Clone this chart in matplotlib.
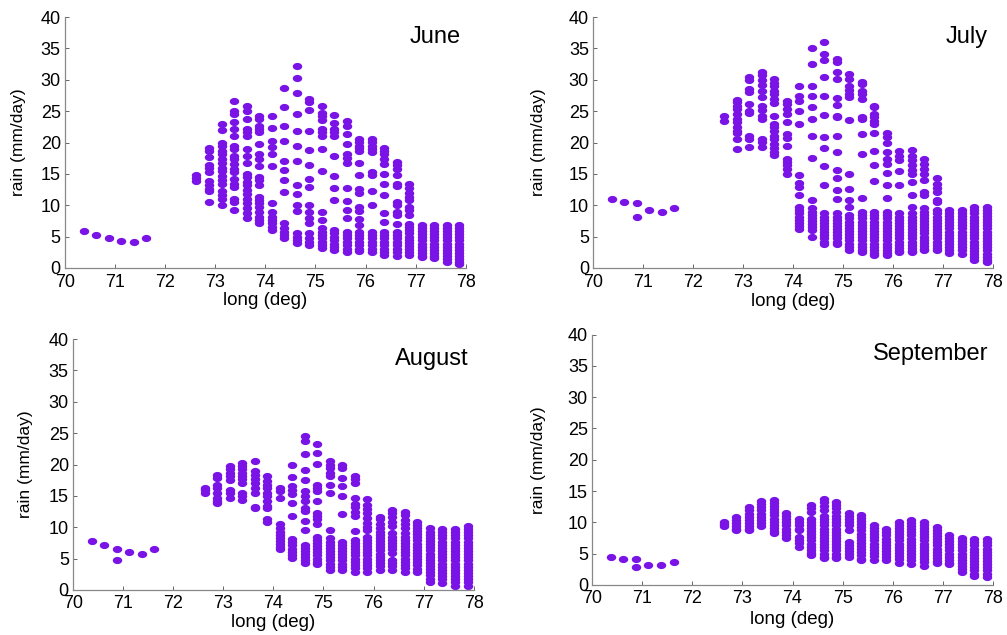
import matplotlib
matplotlib.use("Agg")
import matplotlib.pyplot as plt
from matplotlib.path import Path
import numpy as np

plt.rcParams['font.family'] = ['Liberation Sans', 'DejaVu Sans']

# Grid-column longitudes (deg E)
lon = [70.375, 70.625, 70.875, 71.125, 71.375, 71.625,
       72.625, 72.875, 73.125, 73.375, 73.625, 73.875, 74.125, 74.375,
       74.625, 74.875, 75.125, 75.375, 75.625, 75.875, 76.125, 76.375,
       76.625, 76.875, 77.125, 77.375, 77.625, 77.875]

months = ["June", "July", "August", "September"]

# Mean daily rain (mm/day) of every grid cell, one list per longitude column
june = [
    [5.9], [5.3], [4.8], [4.3], [4.2], [4.8],
    [13.9, 14.4, 14.9],
    [19.1, 18.7, 17.7, 16.5, 16.0, 15.3, 13.8, 13.3, 12.6, 12.2, 10.6],
    [22.9, 22.0, 20.0, 19.4, 18.7, 18.1, 17.3, 16.7, 16.0, 15.4, 14.7, 14.1, 13.4, 12.2, 11.6, 11.0, 10.0],
    [26.6, 25.1, 24.5, 23.3, 22.2, 21.0, 19.5, 19.0, 17.9, 17.4, 16.6, 15.8, 15.3, 14.2, 13.4, 12.9, 11.0, 10.5, 9.2],
    [25.8, 25.1, 23.7, 22.2, 21.7, 21.0, 19.0, 17.9, 16.7, 15.0, 14.5, 13.7, 13.2, 12.4, 11.8, 11.0, 10.3, 9.5, 8.7, 8.0],
    [24.3, 23.8, 22.7, 22.2, 21.7, 19.8, 18.2, 17.4, 16.3, 14.5, 14.0, 13.2, 11.3, 10.8, 10.3, 9.7, 8.9, 8.2, 7.6, 7.1],
    [24.2, 22.4, 20.3, 19.3, 18.1, 16.3, 10.4, 9.0, 8.1, 7.6, 7.1, 6.5, 6.0],
    [28.7, 25.6, 22.6, 20.2, 17.1, 15.6, 14.1, 12.1, 7.2, 6.3, 5.7, 5.2, 4.7],
    [32.2, 30.3, 27.9, 24.6, 21.9, 19.4, 17.0, 13.3, 11.8, 10.1, 9.1, 5.5, 4.9, 4.4, 4.0],
    [26.9, 26.5, 25.2, 21.8, 18.8, 16.5, 14.2, 12.9, 10.0, 8.9, 7.9, 7.2, 5.5, 4.8, 4.1, 3.6],
    [25.9, 24.7, 24.2, 23.6, 22.2, 21.7, 21.0, 18.9, 15.5, 8.9, 7.6, 6.3, 5.7, 5.2, 4.7, 4.1, 3.6, 3.2],
    [24.4, 23.1, 22.2, 21.7, 21.0, 17.8, 14.7, 12.8, 10.8, 6.0, 5.5, 4.9, 4.4, 3.9, 3.3, 2.8],
    [23.4, 22.7, 21.4, 19.7, 18.1, 17.5, 16.7, 12.8, 10.7, 9.3, 7.9, 5.7, 5.2, 4.7, 4.1, 3.6, 3.1, 2.5],
    [20.6, 20.1, 19.5, 19.1, 18.6, 16.7, 14.9, 12.6, 12.0, 9.7, 9.1, 7.8, 6.8, 5.7, 5.2, 4.7, 4.1, 3.6, 3.1, 2.7],
    [20.6, 20.1, 19.5, 19.0, 18.5, 15.3, 14.8, 12.3, 10.1, 5.7, 5.2, 4.7, 4.1, 3.6, 3.1, 2.5],
    [19.1, 18.6, 18.2, 17.3, 16.6, 15.0, 13.4, 11.7, 8.8, 7.4, 5.7, 5.2, 4.7, 4.1, 3.6, 3.1, 2.5, 2.0],
    [16.9, 16.4, 15.8, 14.8, 13.4, 13.1, 10.5, 10.1, 8.9, 8.4, 7.0, 5.7, 5.2, 4.7, 4.1, 3.6, 3.1, 2.5, 1.9],
    [13.4, 12.8, 12.0, 11.3, 10.8, 9.8, 9.3, 8.5, 7.0, 6.5, 6.0, 5.5, 5.0, 4.5, 4.0, 3.5, 3.0, 2.5, 2.0],
    [6.9, 6.4, 5.9, 5.4, 4.9, 4.4, 3.9, 3.4, 2.9, 2.4, 1.9, 1.7],
    [6.9, 6.4, 5.9, 5.4, 4.9, 4.4, 3.9, 3.4, 2.9, 2.4, 1.9, 1.6],
    [6.9, 6.4, 5.9, 5.4, 4.9, 4.4, 3.9, 3.4, 2.9, 2.4, 1.9, 1.4, 1.0],
    [6.9, 6.4, 5.9, 5.4, 4.9, 4.4, 3.9, 3.4, 2.9, 2.4, 1.9, 1.4, 0.9, 0.7],
]

july = [
    [11.0], [10.6], [10.3, 8.1], [9.3], [8.9], [9.5],
    [23.5, 24.3],
    [26.8, 26.4, 25.9, 25.4, 24.6, 23.8, 23.3, 22.5, 21.9, 21.5, 20.6, 19.0],
    [30.5, 29.9, 28.6, 28.0, 26.2, 25.1, 24.7, 21.1, 20.6, 19.3],
    [31.2, 30.7, 29.9, 29.1, 28.3, 27.3, 25.8, 25.2, 24.3, 23.7, 20.6, 20.1, 19.3],
    [30.2, 29.5, 29.0, 28.3, 27.7, 27.0, 26.3, 24.2, 23.0, 22.5, 21.8, 21.1, 20.5, 19.8, 19.2, 18.5, 18.0],
    [26.6, 26.1, 25.4, 24.6, 23.3, 21.4, 20.8, 19.5, 17.4, 16.9, 16.4, 15.8, 15.0],
    [29.0, 27.5, 26.7, 25.0, 22.9, 14.9, 13.5, 12.9, 11.7, 9.7, 9.2, 8.7, 8.2, 7.7, 7.2, 6.7, 6.2],
    [35.1, 32.6, 29.0, 27.4, 25.7, 23.7, 21.0, 17.6, 10.8, 9.5, 9.0, 8.5, 8.0, 7.5, 7.0, 6.5, 6.0, 5.0],
    [36.0, 34.2, 33.1, 30.5, 27.4, 24.4, 20.9, 19.1, 16.2, 13.3, 8.7, 8.2, 7.7, 7.2, 6.7, 6.2, 5.7, 5.2, 4.7, 4.2, 3.9],
    [33.4, 32.9, 31.3, 30.1, 27.1, 26.0, 24.3, 24.0, 21.0, 18.5, 15.7, 14.4, 12.4, 11.0, 8.7, 8.2, 7.7, 7.2, 6.7, 6.2, 5.7, 5.2, 4.7, 4.2, 3.9],
    [30.9, 30.1, 29.0, 28.4, 27.8, 27.3, 23.6, 15.0, 12.6, 10.8, 9.7, 8.4, 7.9, 7.4, 6.9, 6.4, 5.9, 5.4, 4.9, 4.4, 3.9, 3.4, 2.8],
    [29.7, 29.3, 28.3, 27.7, 27.0, 24.1, 23.7, 21.4, 18.2, 11.2, 8.9, 8.4, 7.9, 7.4, 6.9, 6.4, 5.9, 5.4, 4.9, 4.4, 3.9, 3.4, 2.9, 2.5],
    [25.9, 25.6, 24.6, 24.1, 23.5, 23.0, 21.5, 18.6, 16.5, 13.8, 8.9, 8.4, 7.9, 7.4, 6.9, 6.4, 5.9, 5.4, 4.9, 4.4, 3.9, 3.4, 2.9, 2.4, 2.0],
    [21.5, 20.9, 19.9, 18.5, 17.3, 16.6, 15.1, 13.3, 11.2, 8.9, 8.4, 7.9, 7.4, 6.9, 6.4, 5.9, 5.4, 4.9, 4.4, 3.9, 3.4, 2.9, 2.4, 2.0],
    [18.6, 17.8, 17.2, 15.5, 13.2, 8.7, 8.2, 7.7, 7.2, 6.7, 6.2, 5.7, 5.2, 4.7, 4.2, 3.7, 3.2, 2.7, 2.5],
    [18.8, 17.8, 17.2, 16.4, 15.7, 15.0, 13.7, 11.7, 9.7, 8.7, 8.2, 7.7, 7.2, 6.7, 6.2, 5.7, 5.2, 4.7, 4.2, 3.7, 3.2, 2.7, 2.5],
    [17.4, 16.6, 15.8, 15.0, 14.0, 12.1, 11.6, 9.5, 9.0, 8.5, 8.0, 7.5, 7.0, 6.5, 6.0, 5.5, 5.0, 4.5, 4.0, 3.5, 3.0, 2.8],
    [14.4, 13.4, 12.8, 12.1, 10.9, 10.5, 9.2, 8.7, 8.2, 7.7, 7.2, 6.7, 6.2, 5.7, 5.2, 4.7, 4.2, 3.7, 3.2, 2.8],
    [9.3, 8.8, 8.3, 7.8, 7.3, 6.8, 6.3, 5.8, 5.3, 4.8, 4.3, 3.8, 3.3, 2.8, 2.4],
    [9.3, 8.8, 8.3, 7.8, 7.3, 6.8, 6.3, 5.8, 5.3, 4.8, 4.3, 3.8, 3.3, 2.8, 2.2],
    [9.7, 9.2, 8.7, 8.2, 7.7, 7.2, 6.7, 6.2, 5.7, 5.2, 4.7, 4.2, 3.7, 3.2, 2.7, 2.2, 1.7, 1.3],
    [9.8, 9.3, 8.8, 8.3, 7.8, 7.3, 6.8, 6.3, 5.8, 5.3, 4.8, 4.3, 3.8, 3.3, 2.8, 2.3, 1.8, 1.3, 1.0],
]

august = [
    [7.8], [7.2], [6.6, 4.8], [6.1], [5.7], [6.5],
    [15.4, 15.9, 16.3],
    [18.4, 17.8, 16.8, 16.2, 15.4, 14.6, 14.1, 13.8],
    [19.8, 19.3, 18.7, 18.1, 17.6, 16.0, 15.4, 14.6],
    [20.3, 19.8, 19.3, 18.7, 18.2, 17.7, 17.1, 15.4, 14.9, 14.3],
    [20.5, 18.9, 18.4, 17.7, 17.0, 16.2, 15.5, 13.3, 13.0],
    [18.1, 17.4, 16.8, 16.2, 15.5, 14.9, 14.1, 13.4, 13.0, 11.3, 10.9],
    [16.2, 15.7, 14.7, 10.5, 9.8, 9.3, 8.8, 8.3, 7.8, 7.3, 6.8, 6.5],
    [19.9, 18.0, 16.5, 15.9, 15.3, 13.9, 11.8, 8.1, 7.6, 7.1, 6.6, 6.1, 5.6, 5.1],
    [24.6, 23.8, 21.6, 19.1, 17.6, 15.7, 15.0, 14.1, 13.1, 12.6, 11.0, 9.6, 7.2, 6.7, 6.2, 5.7, 5.2, 4.7, 4.3],
    [23.3, 21.8, 20.1, 16.8, 16.2, 15.7, 14.1, 12.3, 11.8, 11.3, 10.5, 8.5, 8.0, 7.5, 7.0, 6.5, 6.0, 5.5, 5.0, 4.5, 4.1],
    [20.5, 19.9, 19.4, 18.7, 18.1, 16.8, 15.5, 9.6, 8.2, 7.7, 7.2, 6.7, 6.2, 5.7, 5.2, 4.7, 4.2, 3.7, 3.1],
    [19.9, 19.4, 17.8, 16.5, 15.0, 12.1, 7.7, 7.2, 6.7, 6.2, 5.7, 5.2, 4.7, 4.2, 3.7, 3.1],
    [18.2, 17.7, 17.0, 14.6, 13.7, 13.2, 12.5, 11.8, 9.4, 8.0, 7.5, 7.0, 6.5, 6.0, 5.5, 5.0, 4.5, 4.0, 3.5, 2.9],
    [14.5, 13.6, 12.9, 12.2, 11.4, 10.7, 10.1, 9.5, 8.5, 8.0, 7.5, 7.0, 6.5, 6.0, 5.5, 5.0, 4.5, 4.0, 3.5, 2.9],
    [11.7, 11.3, 10.5, 9.8, 9.3, 8.8, 8.3, 7.8, 7.3, 6.8, 6.3, 5.8, 5.3, 4.8, 4.3, 3.8, 3.2],
    [12.8, 12.2, 11.6, 10.9, 10.2, 9.0, 8.5, 8.0, 7.5, 7.0, 6.5, 5.9, 4.8, 4.3, 3.8, 3.2],
    [12.5, 12.0, 11.2, 10.5, 9.8, 9.0, 8.5, 8.0, 7.5, 7.0, 6.5, 6.0, 5.5, 5.0, 4.5, 4.0, 3.5, 2.9],
    [10.9, 10.4, 9.9, 9.4, 8.9, 8.4, 7.9, 7.4, 6.9, 6.4, 5.9, 5.4, 4.9, 4.4, 3.9, 3.4, 2.9],
    [9.8, 9.3, 8.8, 8.3, 7.8, 7.3, 6.8, 6.3, 5.8, 5.3, 4.8, 4.3, 3.8, 3.3, 2.8, 2.3, 1.8, 1.3],
    [9.7, 9.2, 8.7, 8.2, 7.7, 7.2, 6.7, 6.2, 5.7, 5.2, 4.7, 4.2, 3.7, 3.2, 2.7, 2.2, 1.7, 1.1],
    [9.7, 9.2, 8.7, 8.2, 7.7, 7.2, 6.7, 6.2, 5.7, 5.2, 4.7, 4.2, 3.7, 3.2, 2.7, 2.2, 1.7, 1.2, 0.7],
    [10.2, 9.7, 9.2, 8.7, 8.2, 7.7, 7.2, 6.7, 6.2, 5.7, 5.2, 4.7, 4.2, 3.7, 3.2, 2.7, 2.2, 1.7, 1.2, 0.7],
]

september = [
    [4.4], [4.1], [4.1, 2.8], [3.2], [3.1], [3.6],
    [9.4, 9.8, 10.1],
    [10.9, 10.4, 9.9, 9.4, 8.9, 8.7],
    [12.4, 11.9, 11.4, 10.9, 10.4, 9.9, 9.4, 8.9, 8.7],
    [13.4, 12.9, 12.4, 11.9, 11.4, 10.9, 10.4, 9.9, 9.4],
    [13.6, 13.1, 12.6, 12.1, 11.6, 11.1, 10.6, 10.1, 9.6, 9.1, 8.6, 8.3],
    [11.5, 11.0, 10.5, 10.0, 9.5, 9.0, 8.5, 8.0, 7.5],
    [10.5, 10.0, 9.5, 9.0, 8.7, 7.7, 7.2, 6.7, 6.1],
    [12.8, 12.3, 11.6, 10.6, 10.1, 9.6, 9.1, 8.6, 8.1, 7.6, 7.1, 6.6, 6.1, 5.6, 5.1, 4.8],
    [13.8, 13.3, 12.6, 12.0, 11.0, 10.5, 10.0, 9.5, 9.0, 8.5, 8.0, 7.5, 7.0, 6.5, 6.0, 5.5, 5.0, 4.5, 4.3],
    [13.3, 12.8, 12.3, 11.6, 11.0, 10.5, 10.0, 9.5, 9.0, 8.5, 8.0, 7.5, 7.0, 6.5, 6.0, 5.5, 5.0, 4.5, 4.3],
    [11.5, 11.0, 10.5, 10.0, 9.5, 8.8, 6.9, 6.4, 5.9, 5.4, 4.9, 4.4],
    [11.2, 10.7, 10.2, 9.7, 9.2, 8.7, 8.2, 7.7, 7.2, 6.7, 6.2, 5.7, 5.2, 4.7, 4.2, 4.0],
    [9.6, 9.1, 8.6, 8.1, 7.6, 7.1, 6.6, 6.1, 5.6, 5.1, 4.6, 4.0],
    [8.9, 8.4, 7.9, 7.4, 6.9, 6.4, 5.9, 5.4, 4.9, 4.4, 4.0],
    [10.1, 9.6, 9.1, 8.6, 8.1, 7.6, 7.1, 6.6, 6.1, 5.6, 5.1, 4.6, 4.1, 3.5],
    [10.4, 9.9, 9.4, 8.9, 8.4, 7.9, 7.4, 6.9, 6.4, 5.9, 5.4, 4.9, 4.4, 3.9, 3.3],
    [10.1, 9.6, 9.1, 8.6, 8.1, 7.6, 7.1, 6.6, 6.1, 5.6, 5.1, 4.6, 4.1, 3.6, 3.0],
    [9.3, 8.8, 8.3, 7.8, 7.3, 6.8, 6.3, 5.8, 5.3, 4.8, 4.3, 3.8, 3.5],
    [8.0, 7.5, 7.0, 6.5, 6.0, 5.5, 5.0, 4.5, 4.0, 3.5, 3.3],
    [7.5, 7.0, 6.5, 6.0, 5.5, 5.0, 4.5, 4.0, 3.5, 3.0, 2.5, 2.1],
    [7.3, 6.8, 6.3, 5.8, 5.3, 4.8, 4.3, 3.8, 3.3, 2.8, 2.3, 1.8, 1.4],
    [7.3, 6.8, 6.3, 5.8, 5.3, 4.8, 4.3, 3.8, 3.3, 2.8, 2.3, 1.8, 1.3],
]

x_ticks = [70, 71, 72, 73, 74, 75, 76, 77, 78]
y_ticks = [0, 5, 10, 15, 20, 25, 30, 35, 40]

# Slightly flattened ellipse marker
t = np.linspace(0, 2 * np.pi, 40)
ellipse = Path(np.column_stack([np.cos(t), 0.76 * np.sin(t)]), closed=True)

color = "#7A14E6"

fig = plt.figure(figsize=(10.07, 6.35), dpi=100)
axes_pos = [
    [0.0645, 0.578, 0.398, 0.395],
    [0.589, 0.578, 0.397, 0.395],
    [0.0725, 0.071, 0.398, 0.395],
    [0.588, 0.079, 0.398, 0.394],
]
ylabel_x = [-0.097, -0.118, -0.100, -0.115]
xlabel_y = [-0.094, -0.098, -0.098, -0.106]

for i, (name, cols, pos) in enumerate(zip(months, [june, july, august, september], axes_pos)):
    ax = fig.add_axes(pos)
    xs = []
    ys = []
    for lo, vals in zip(lon, cols):
        xs.extend([lo] * len(vals))
        ys.extend(vals)
    ax.plot(xs, ys, linestyle="none", marker=ellipse, markersize=6.8,
            color=color, markeredgewidth=0)
    ax.set_xlim(70, 78)
    ax.set_ylim(0, 40)
    ax.set_xticks(x_ticks)
    ax.set_yticks(y_ticks)
    ax.tick_params(direction="in", length=3, width=0.7, color="#666666",
                   labelsize=13)
    ax.tick_params(axis="x", pad=4)
    ax.tick_params(axis="y", pad=3)
    for side in ("top", "right"):
        ax.spines[side].set_visible(False)
    for side in ("left", "bottom"):
        ax.spines[side].set_color("#888888")
        ax.spines[side].set_linewidth(0.9)
    ax.set_xlabel("long (deg)", fontsize=13.5)
    ax.set_ylabel("rain (mm/day)", fontsize=12.5)
    ax.yaxis.set_label_coords(ylabel_x[i], 0.5)
    ax.xaxis.set_label_coords(0.5, xlabel_y[i])
    ax.text(77.9, 36.9, name, ha="right", va="center", fontsize=17)

fig.savefig("out.png", dpi=100)
